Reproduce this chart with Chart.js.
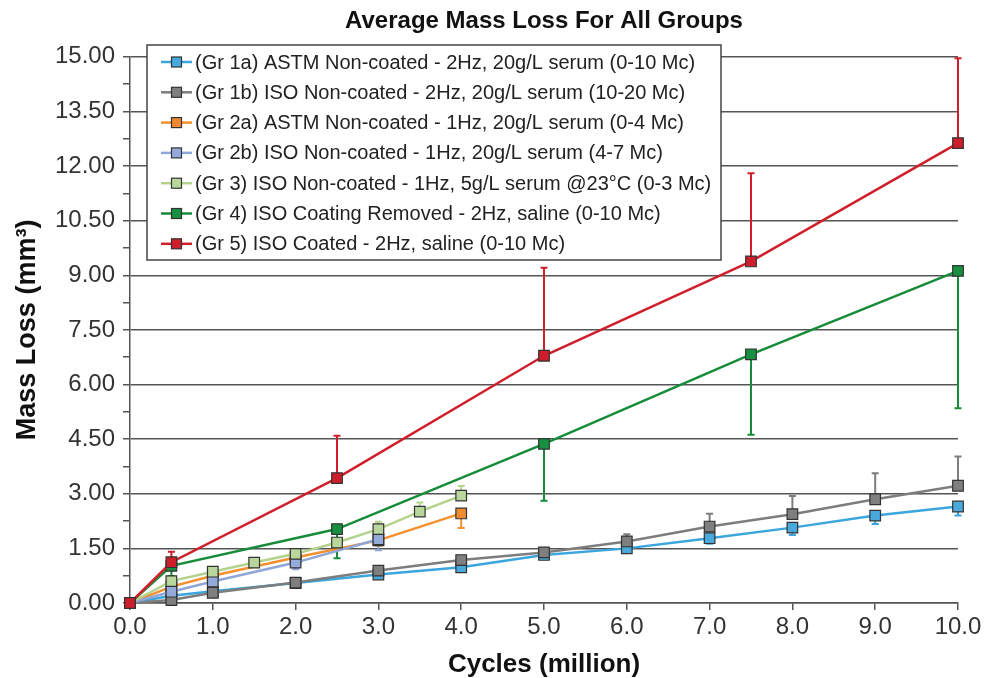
<!DOCTYPE html>
<html>
<head>
<meta charset="utf-8">
<script src="https://cdn.jsdelivr.net/npm/chart.js@4/dist/chart.umd.min.js"></script>
<style>
  html, body { margin: 0; padding: 0; background: #fff; }
  #wrap { width: 994px; height: 678px; position: relative; }
</style>
</head>
<body>
<div id="wrap"><canvas id="chart-0"></canvas></div>
<script>
// series labels
var groupLabels = [
    '(Gr 1a) ASTM Non-coated - 2Hz, 20g/L serum (0-10 Mc)',
    '(Gr 1b) ISO Non-coated - 2Hz, 20g/L serum (10-20 Mc)',
    '(Gr 2a) ASTM Non-coated - 1Hz, 20g/L serum (0-4 Mc)',
    '(Gr 2b) ISO Non-coated - 1Hz, 20g/L serum (4-7 Mc)',
    '(Gr 3) ISO Non-coated - 1Hz, 5g/L serum @23\u00b0C (0-3 Mc)',
    '(Gr 4) ISO Coating Removed - 2Hz, saline (0-10 Mc)',
    '(Gr 5) ISO Coated - 2Hz, saline (0-10 Mc)'
];

// cycles (million), mass loss (mm3), error bar length
var g1aX = [0, 0.5, 1, 2, 3, 4, 5, 6, 7, 8, 9, 10];
var g1aY = [0, 0.2, 0.32, 0.55, 0.78, 0.98, 1.32, 1.5, 1.78, 2.07, 2.4, 2.65];
var g1aErr = [0, 0.04, 0.05, 0.05, 0.08, 0.08, 0.08, 0.1, 0.15, 0.2, 0.23, 0.25];

var g1bX = [0, 0.5, 1, 2, 3, 4, 5, 6, 7, 8, 9, 10];
var g1bY = [0, 0.08, 0.28, 0.56, 0.89, 1.18, 1.39, 1.69, 2.1, 2.44, 2.85, 3.22];
var g1bErr = [0, 0.02, 0.03, 0.05, 0.05, 0.08, 0.08, 0.2, 0.35, 0.5, 0.71, 0.8];

var g2aX = [0, 0.5, 1, 2, 3, 4];
var g2aY = [0, 0.45, 0.75, 1.25, 1.72, 2.46];
var g2aErr = [0, 0.05, 0.05, 0.1, 0.15, 0.4];

var g2bX = [0, 0.5, 1, 2, 3];
var g2bY = [0, 0.31, 0.59, 1.11, 1.75];
var g2bErr = [0, 0.05, 0.08, 0.18, 0.3];

var g3X = [0, 0.5, 1, 1.5, 2, 2.5, 3, 3.5, 4];
var g3Y = [0, 0.6, 0.86, 1.11, 1.35, 1.66, 2.03, 2.51, 2.95];
var g3Err = [0, 0.05, 0.05, 0.05, 0.08, 0.1, 0.2, 0.25, 0.26];

var g4X = [0, 0.5, 2.5, 5, 7.5, 10];
var g4Y = [0, 1.02, 2.03, 4.37, 6.83, 9.12];
var g4Err = [0, 0.28, 0.8, 1.56, 2.21, 3.77];

var g5X = [0, 0.5, 2.5, 5, 7.5, 10];
var g5Y = [0, 1.12, 3.43, 6.79, 9.38, 12.63];
var g5Err = [0, 0.29, 1.16, 2.42, 2.42, 2.33];

// y ticks every 0.75, labelled every 1.5
var yMin = 0, yMax = 15, yStep = 0.75;
var xMin = 0, xMax = 10, xStep = 1;

var FONT = "'Liberation Sans', Arial, sans-serif";
var AXIS_COLOR = '#555';

function points(xs, ys) {
    return xs.map(function (x, i) { return { x: x, y: ys[i] }; });
}

function series(idx, xs, ys, err, dir, line, fill, order) {
    return {
        label: groupLabels[idx],
        data: points(xs, ys),
        err: err,
        errDir: dir,
        borderColor: line,
        backgroundColor: fill,
        pointBackgroundColor: fill,
        pointBorderColor: '#333',
        pointBorderWidth: 1.2,
        pointStyle: 'rect',
        pointRadius: 7.5,
        borderWidth: 2.5,
        tension: 0,
        clip: false,
        order: order
    };
}

var datasets = [
    series(0, g1aX, g1aY, g1aErr, -1, '#3aa6dd', '#4aa9dc', 7),
    series(1, g1bX, g1bY, g1bErr, 1, '#7d7d7d', '#7f7f7f', 6),
    series(2, g2aX, g2aY, g2aErr, -1, '#f4902e', '#f08a30', 5),
    series(3, g2bX, g2bY, g2bErr, -1, '#8ea6d8', '#93aadb', 4),
    series(4, g3X, g3Y, g3Err, 1, '#b3d38d', '#b9d79c', 3),
    series(5, g4X, g4Y, g4Err, -1, '#168c3a', '#17903f', 2),
    series(6, g5X, g5Y, g5Err, 1, '#d01f2b', '#cc1f2b', 1)
];

// one-sided error bars
var errorBars = {
    id: 'errorBars',
    beforeDatasetsDraw: function (chart) {
        var ctx = chart.ctx, xs = chart.scales.x, ys = chart.scales.y;
        ctx.save();
        chart.data.datasets.forEach(function (ds) {
            ctx.strokeStyle = ds.borderColor;
            ctx.lineWidth = 2;
            ds.data.forEach(function (p, i) {
                var e = ds.err[i];
                if (!e) return;
                var px = xs.getPixelForValue(p.x);
                var y0 = ys.getPixelForValue(p.y);
                var y1 = ys.getPixelForValue(p.y + ds.errDir * e);
                ctx.beginPath();
                ctx.moveTo(px, y0);
                ctx.lineTo(px, y1);
                ctx.moveTo(px - 3.5, y1);
                ctx.lineTo(px + 3.5, y1);
                ctx.stroke();
            });
        });
        ctx.restore();
    }
};

// legend box inside the plot, top left
var boxLegend = {
    id: 'boxLegend',
    afterDraw: function (chart) {
        var ctx = chart.ctx;
        var left = 147, top = 45, w = 574, h = 215, rowH = 30.3;
        ctx.save();
        ctx.fillStyle = '#fff';
        ctx.fillRect(left, top, w, h);
        ctx.strokeStyle = '#444';
        ctx.lineWidth = 1.5;
        ctx.strokeRect(left, top, w, h);
        ctx.font = '20px ' + FONT;
        ctx.textBaseline = 'middle';
        chart.data.datasets.forEach(function (ds, i) {
            var cy = top + 17 + i * rowH;
            ctx.strokeStyle = ds.borderColor;
            ctx.lineWidth = 2.5;
            ctx.beginPath();
            ctx.moveTo(161, cy);
            ctx.lineTo(192, cy);
            ctx.stroke();
            ctx.fillStyle = ds.pointBackgroundColor;
            ctx.fillRect(171.5, cy - 5, 10, 10);
            ctx.strokeStyle = '#333';
            ctx.lineWidth = 1.2;
            ctx.strokeRect(171.5, cy - 5, 10, 10);
            ctx.fillStyle = '#222';
            ctx.fillText(ds.label, 195, cy + 1);
        });
        ctx.restore();
    }
};

new Chart('chart-0', {
    type: 'line',
    data: { datasets: datasets },
    options: {
        responsive: true,
        maintainAspectRatio: false,
        animation: false,
        layout: { padding: { left: 5, right: 36, top: 0, bottom: 0 } },
        plugins: {
            legend: { display: false },
            tooltip: { enabled: false },
            title: {
                display: true,
                text: 'Average Mass Loss For All Groups',
                fullSize: false,
                color: '#111',
                font: { family: FONT, size: 24, weight: 'bold', lineHeight: 1.2 },
                padding: { top: 7, bottom: 21 }
            }
        },
        scales: {
            x: {
                type: 'linear',
                min: xMin,
                max: xMax,
                afterFit: function (s) { s.height = 75; },
                ticks: {
                    stepSize: xStep,
                    color: '#333',
                    padding: 3,
                    font: { family: FONT, size: 24 },
                    callback: function (v) { return v.toFixed(1); }
                },
                grid: { drawOnChartArea: false, tickLength: 7, tickColor: AXIS_COLOR, lineWidth: 1.5 },
                border: { color: AXIS_COLOR, width: 1.5 },
                title: {
                    display: true,
                    text: 'Cycles (million)',
                    color: '#111',
                    font: { family: FONT, size: 26, weight: 'bold', lineHeight: 1 },
                    padding: { top: 0, bottom: 0 }
                }
            },
            y: {
                min: yMin,
                max: yMax,
                afterFit: function (s) { s.width = 125; },
                ticks: {
                    stepSize: yStep,
                    autoSkip: false,
                    color: '#333',
                    padding: 8,
                    font: { family: FONT, size: 24 },
                    callback: function (v, i) { return i % 2 === 0 ? v.toFixed(2) : ''; }
                },
                grid: {
                    color: function (c) { return c.index % 2 === 0 ? AXIS_COLOR : 'rgba(0,0,0,0)'; },
                    tickColor: AXIS_COLOR,
                    tickLength: 7,
                    lineWidth: 1.5
                },
                border: { color: AXIS_COLOR, width: 1.5 },
                title: {
                    display: true,
                    text: 'Mass Loss (mm\u00b3)',
                    color: '#111',
                    font: { family: FONT, size: 27, weight: 'bold', lineHeight: 1.2 },
                    padding: { top: 6, bottom: 0 }
                }
            }
        }
    },
    plugins: [errorBars, boxLegend]
});
</script>
</body>
</html>
